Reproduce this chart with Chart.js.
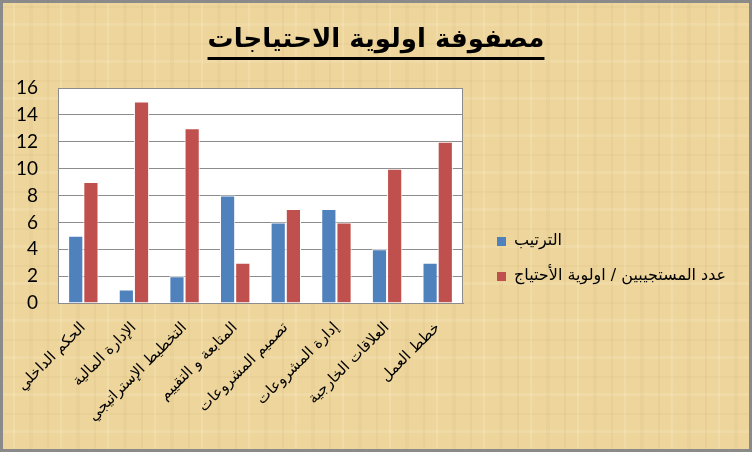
<!DOCTYPE html>
<html lang="ar">
<head>
<meta charset="utf-8">
<script src="https://cdn.jsdelivr.net/npm/chart.js@4.4.1/dist/chart.umd.min.js"></script>
<style>
  html, body { margin: 0; padding: 0; }
  #wrap {
    width: 752px; height: 452px; position: relative;
    background-color: #edd59c;
    background-image:
      repeating-linear-gradient(90deg, rgba(170,130,60,0.07) 0 2px, transparent 2px 13px, rgba(255,250,220,0.18) 13px 15px, transparent 15px 29px, rgba(160,120,50,0.05) 29px 33px, transparent 33px 47px),
      repeating-linear-gradient(0deg, rgba(170,130,60,0.06) 0 2px, transparent 2px 19px, rgba(255,250,220,0.14) 19px 22px, transparent 22px 37px);
  }
  canvas { display: block; }
</style>
</head>
<body>
<div id="wrap"><canvas id="chart" width="752" height="452"></canvas></div>
<script>
// Chart data
const categories = [
  "الحكم الداخلي",
  "الإدارة المالية",
  "التخطيط الإستراتيجي",
  "المتابعة و التقييم",
  "تصميم المشروعات",
  "إدارة المشروعات",
  "العلاقات الخارجية",
  "خطط العمل"
];
const rankValues = [5, 1, 2, 8, 6, 7, 4, 3];
const respondentValues = [9, 15, 13, 3, 7, 6, 10, 12];
const seriesNames = ["الترتيب", "عدد المستجيبين / اولوية الأحتياج"];
const seriesColors = ["#4f81bd", "#c0504d"];
const yMin = 0, yMax = 16, yStep = 2;
const chartTitle = "مصفوفة اولوية الاحتياجات";

const arabicFont = "'DejaVu Sans', sans-serif";
const gridGray = "#8c8c8c";

// white plot area + right edge of the frame
const plotFrame = {
  id: "plotFrame",
  beforeDraw(chart) {
    const a = chart.chartArea, ctx = chart.ctx;
    ctx.save();
    ctx.fillStyle = "#ffffff";
    ctx.fillRect(a.left, a.top, a.right - a.left, a.bottom - a.top);
    ctx.restore();
  },
  afterDraw(chart) {
    const a = chart.chartArea, ctx = chart.ctx;
    ctx.save();
    ctx.strokeStyle = gridGray;
    ctx.lineWidth = 1;
    ctx.strokeRect(a.left + 0.5, a.top + 0.5, a.right - a.left - 1, a.bottom - a.top);
    // outer image border
    ctx.strokeStyle = "#8a8a8a";
    ctx.lineWidth = 3;
    ctx.strokeRect(1.5, 1.5, chart.width - 3, chart.height - 3);
    ctx.restore();
  }
};

// underlined title
const titleDraw = {
  id: "titleDraw",
  afterDraw(chart) {
    const ctx = chart.ctx;
    ctx.save();
    ctx.font = "bold 26px " + arabicFont;
    ctx.fillStyle = "#000";
    ctx.textAlign = "center";
    ctx.textBaseline = "alphabetic";
    const cx = 376;
    ctx.fillText(chartTitle, cx, 47);
    const w = ctx.measureText(chartTitle).width;
    ctx.fillRect(cx - w / 2, 57, w, 3);
    ctx.restore();
  }
};

// legend on the right
const sideLegend = {
  id: "sideLegend",
  afterDraw(chart) {
    const ctx = chart.ctx;
    ctx.save();
    ctx.font = "16px " + arabicFont;
    ctx.textAlign = "left";
    ctx.textBaseline = "middle";
    chart.data.datasets.forEach((ds, i) => {
      const y = 241 + i * 35;
      ctx.fillStyle = ds.backgroundColor;
      ctx.fillRect(497, y - 4, 9, 9);
      ctx.fillStyle = "#000";
      ctx.fillText(ds.label, 514, y);
    });
    ctx.restore();
  }
};

new Chart(document.getElementById("chart"), {
  type: "bar",
  data: {
    labels: categories,
    datasets: [
      { label: seriesNames[0], data: rankValues, backgroundColor: seriesColors[0],
        borderColor: "#ffffff", borderWidth: 1, barPercentage: 1, categoryPercentage: 0.6 },
      { label: seriesNames[1], data: respondentValues, backgroundColor: seriesColors[1],
        borderColor: "#ffffff", borderWidth: 1, barPercentage: 1, categoryPercentage: 0.6 }
    ]
  },
  options: {
    responsive: false,
    animation: false,
    layout: { padding: { top: 88, right: 289, bottom: 0, left: 0 } },
    plugins: {
      legend: { display: false },
      title: { display: false },
      tooltip: { enabled: false }
    },
    scales: {
      x: {
        grid: { display: false },
        border: { color: gridGray },
        ticks: {
          color: "#000",
          font: { family: arabicFont, size: 15 },
          maxRotation: 45, minRotation: 45,
          autoSkip: false, padding: 8
        },
        afterFit(s) { s.height = 149; }
      },
      y: {
        min: yMin, max: yMax,
        ticks: { stepSize: yStep, color: "#000", font: { family: "Lato", size: 19 }, padding: 20 },
        grid: { color: gridGray, drawTicks: false },
        border: { color: gridGray },
        afterFit(s) { s.width = 58; }
      }
    }
  },
  plugins: [plotFrame, titleDraw, sideLegend]
});
</script>
</body>
</html>
